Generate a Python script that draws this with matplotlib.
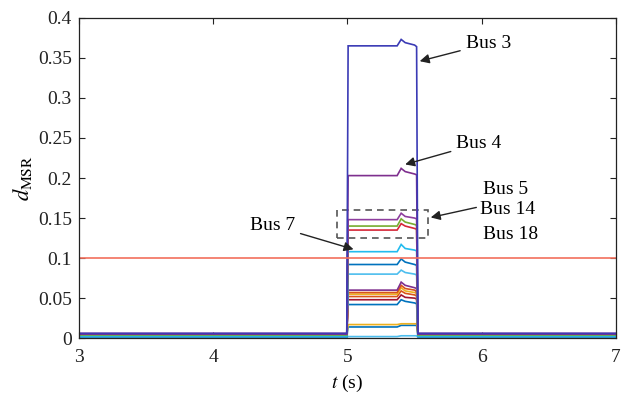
import matplotlib
matplotlib.use("Agg")
import matplotlib.pyplot as plt
from matplotlib.patches import Rectangle

plt.rcParams['font.family'] = ['Liberation Serif', 'DejaVu Serif']
plt.rcParams['mathtext.fontset'] = 'stix'

# shared time breakpoints (s)
t = [3.0, 4.995, 5.005, 5.37, 5.40, 5.43, 5.50, 5.515, 5.525, 7.0]

# d_MSR values of each bus curve at the breakpoints
bus_3  = [0.006, 0.006, 0.365, 0.365, 0.373, 0.369, 0.366, 0.364, 0.006, 0.006]
bus_4  = [0.005, 0.005, 0.203, 0.203, 0.212, 0.208, 0.205, 0.204, 0.005, 0.005]
bus_5  = [0.006, 0.006, 0.148, 0.148, 0.156, 0.152, 0.150, 0.149, 0.006, 0.006]
bus_14 = [0.004, 0.004, 0.140, 0.140, 0.149, 0.145, 0.142, 0.141, 0.004, 0.004]
bus_18 = [0.005, 0.005, 0.135, 0.135, 0.143, 0.140, 0.137, 0.136, 0.005, 0.005]
bus_7  = [0.003, 0.003, 0.108, 0.108, 0.117, 0.112, 0.110, 0.109, 0.003, 0.003]
bus_a  = [0.004, 0.004, 0.092, 0.092, 0.099, 0.095, 0.092, 0.091, 0.004, 0.004]
bus_b  = [0.003, 0.003, 0.080, 0.080, 0.085, 0.082, 0.080, 0.079, 0.003, 0.003]
bus_c  = [0.005, 0.005, 0.060, 0.060, 0.070, 0.066, 0.063, 0.062, 0.005, 0.005]
bus_d  = [0.004, 0.004, 0.057, 0.057, 0.066, 0.062, 0.060, 0.058, 0.004, 0.004]
bus_e  = [0.005, 0.005, 0.055, 0.055, 0.063, 0.059, 0.057, 0.056, 0.005, 0.005]
bus_f  = [0.004, 0.004, 0.052, 0.052, 0.059, 0.056, 0.054, 0.053, 0.004, 0.004]
bus_g  = [0.005, 0.005, 0.048, 0.048, 0.054, 0.051, 0.050, 0.049, 0.005, 0.005]
bus_h  = [0.003, 0.003, 0.042, 0.042, 0.048, 0.046, 0.044, 0.043, 0.003, 0.003]
bus_i  = [0.004, 0.004, 0.017, 0.017, 0.018, 0.018, 0.018, 0.018, 0.004, 0.004]
bus_j  = [0.002, 0.002, 0.014, 0.014, 0.016, 0.016, 0.016, 0.016, 0.002, 0.002]
bus_k  = [0.001, 0.001, 0.002, 0.002, 0.003, 0.003, 0.003, 0.003, 0.001, 0.001]

series = [
    (bus_k, '#4DBEEE'), (bus_j, '#0072BD'), (bus_i, '#EDB120'),
    (bus_h, '#0072BD'), (bus_g, '#A2142F'), (bus_f, '#D95319'),
    (bus_e, '#EDB120'), (bus_d, '#D95319'), (bus_c, '#7E2F8E'),
    (bus_b, '#4DBEEE'), (bus_a, '#0072BD'), (bus_7, '#22BBEE'),
    (bus_18, '#D62839'), (bus_14, '#77AC30'), (bus_5, '#8E3E9E'),
    (bus_4, '#7E2F8E'), (bus_3, '#3B3BB5'),
]

threshold = 0.1
xticks = [3, 4, 5, 6, 7]
yticks = [0, 0.05, 0.1, 0.15, 0.2, 0.25, 0.3, 0.35, 0.4]
yticklabels = ['0', '0.05', '0.1', '0.15', '0.2', '0.25', '0.3', '0.35', '0.4']

fig = plt.figure(figsize=(6.21, 3.96), dpi=100)
ax = fig.add_axes([0.127, 0.146, 0.865, 0.809])

for vals, col in series:
    ax.plot(t, vals, color=col, lw=1.2, solid_joinstyle='miter')

ax.axhline(threshold, color='#F2705C', lw=1.2)

ax.set_xlim(3, 7)
ax.set_ylim(0, 0.4)
ax.set_xticks(xticks)
ax.set_xticklabels([str(v) for v in xticks])
ax.set_yticks(yticks)
ax.set_yticklabels(yticklabels)
ax.tick_params(direction='in', top=True, right=True, labelsize=14,
               length=4, width=0.8, colors='#222222', pad=5)
ax.tick_params(axis='x', pad=8)
for s in ax.spines.values():
    s.set_linewidth(0.9)
    s.set_color('#222222')

ax.set_xlabel(r'$t$ (s)', fontsize=14, labelpad=5)
ax.set_ylabel(r'$d_{\mathrm{MSR}}$', fontsize=16, labelpad=3)

# dashed box around Bus 5/14/18
ax.add_patch(Rectangle((4.92, 0.125), 0.68, 0.035, fill=False,
                       ls=(0, (4, 3)), lw=1.2, ec='#555555'))

arrow = dict(arrowstyle='-|>', color='#222222', lw=1.0, mutation_scale=14)
fs = 14
ax.annotate('Bus 3', xy=(5.518, 0.345), xytext=(5.88, 0.368), fontsize=fs,
            va='center', ha='left', arrowprops=arrow)
ax.annotate('Bus 4', xy=(5.41, 0.216), xytext=(5.81, 0.243), fontsize=fs,
            va='center', ha='left', arrowprops=arrow)
ax.annotate('', xy=(5.60, 0.150), xytext=(5.98, 0.164), arrowprops=arrow)
ax.text(6.01, 0.186, 'Bus 5', fontsize=fs, va='center', ha='left')
ax.text(5.99, 0.161, 'Bus 14', fontsize=fs, va='center', ha='left')
ax.text(6.01, 0.129, 'Bus 18', fontsize=fs, va='center', ha='left')
ax.annotate('Bus 7', xy=(5.065, 0.110), xytext=(4.61, 0.141), fontsize=fs,
            va='center', ha='right', arrowprops=arrow)

fig.savefig('out.png', dpi=100)
